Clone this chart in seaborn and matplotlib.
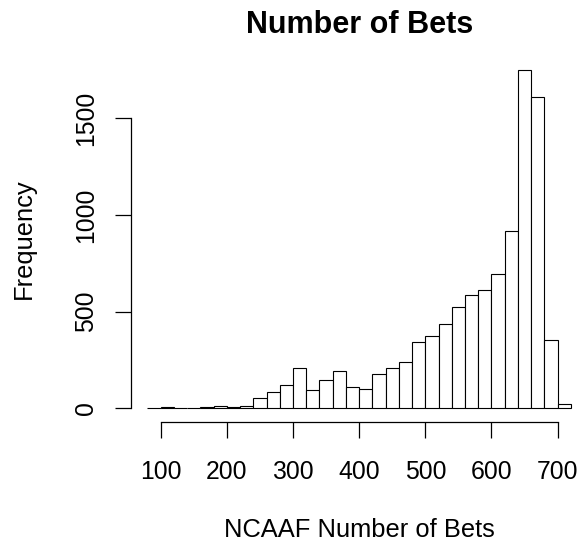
import numpy as np
import pandas as pd
import seaborn as sns
import matplotlib
matplotlib.use("Agg")
import matplotlib.pyplot as plt

## bin starts of the histogram (width 20) and the counts
bin_start = [80, 100, 120, 140, 160, 180, 200, 220, 240, 260, 280, 300, 320, 340, 360, 380,
             400, 420, 440, 460, 480, 500, 520, 540, 560, 580, 600, 620, 640, 660, 680, 700]
counts = [3, 8, 3, 3, 7, 14, 5, 12, 55, 86, 122, 209, 95, 147, 191, 112,
          102, 178, 209, 238, 344, 376, 436, 526, 588, 614, 693, 917, 1749, 1612, 355, 21]
x_ticks = [100, 200, 300, 400, 500, 600, 700]
y_ticks = [0, 500, 1000, 1500]

df = pd.DataFrame({"bets": np.array(bin_start) + 10, "n": counts})
edges = list(bin_start) + [bin_start[-1] + 20]

sns.set_theme(style="white")
plt.rcParams["font.family"] = ["Liberation Sans", "DejaVu Sans"]
plt.rcParams["text.color"] = "black"
plt.rcParams["axes.labelcolor"] = "black"

fig = plt.figure(figsize=(5.88, 5.48), dpi=100)
ax = fig.add_axes([130.5 / 588, 1 - 421.8 / 548, 457.3 / 588, 365.3 / 548])

sns.histplot(data=df, x="bets", weights="n", bins=edges, ax=ax,
             color="white", edgecolor="black", linewidth=0.8, alpha=1)

ax.set_xlim(54.4, 745.6)
ax.set_ylim(-70, 1819)

for s in ["top", "right"]:
    ax.spines[s].set_visible(False)
ax.spines["bottom"].set_bounds(100, 700)
ax.spines["left"].set_bounds(0, 1500)
for s in ["bottom", "left"]:
    ax.spines[s].set_linewidth(0.9)
    ax.spines[s].set_color("black")

ax.set_xticks(x_ticks)
ax.set_yticks(y_ticks)
ax.set_yticklabels([str(v) for v in y_ticks], rotation=90, va="center")
ax.tick_params(axis="both", direction="out", length=11.2, width=0.9, color="black",
               labelsize=17.8, labelcolor="black")
ax.tick_params(axis="x", bottom=True, pad=16.5)
ax.tick_params(axis="y", left=True, pad=12)

ax.set_xlabel("NCAAF Number of Bets", fontsize=18.4, va="center", color="black")
ax.xaxis.set_label_coords(0.5, -(530 - 421.8) / 365.3)
ax.set_ylabel("Frequency", fontsize=18.4, va="center", color="black")
ax.yaxis.set_label_coords((24 - 130.5) / 457.3, 0.5)

ax.set_title("Number of Bets", fontsize=22, fontweight="bold", color="black",
             y=(421.8 - 33.3) / 365.3, va="baseline", pad=0)

plt.savefig("out.png", dpi=100)
